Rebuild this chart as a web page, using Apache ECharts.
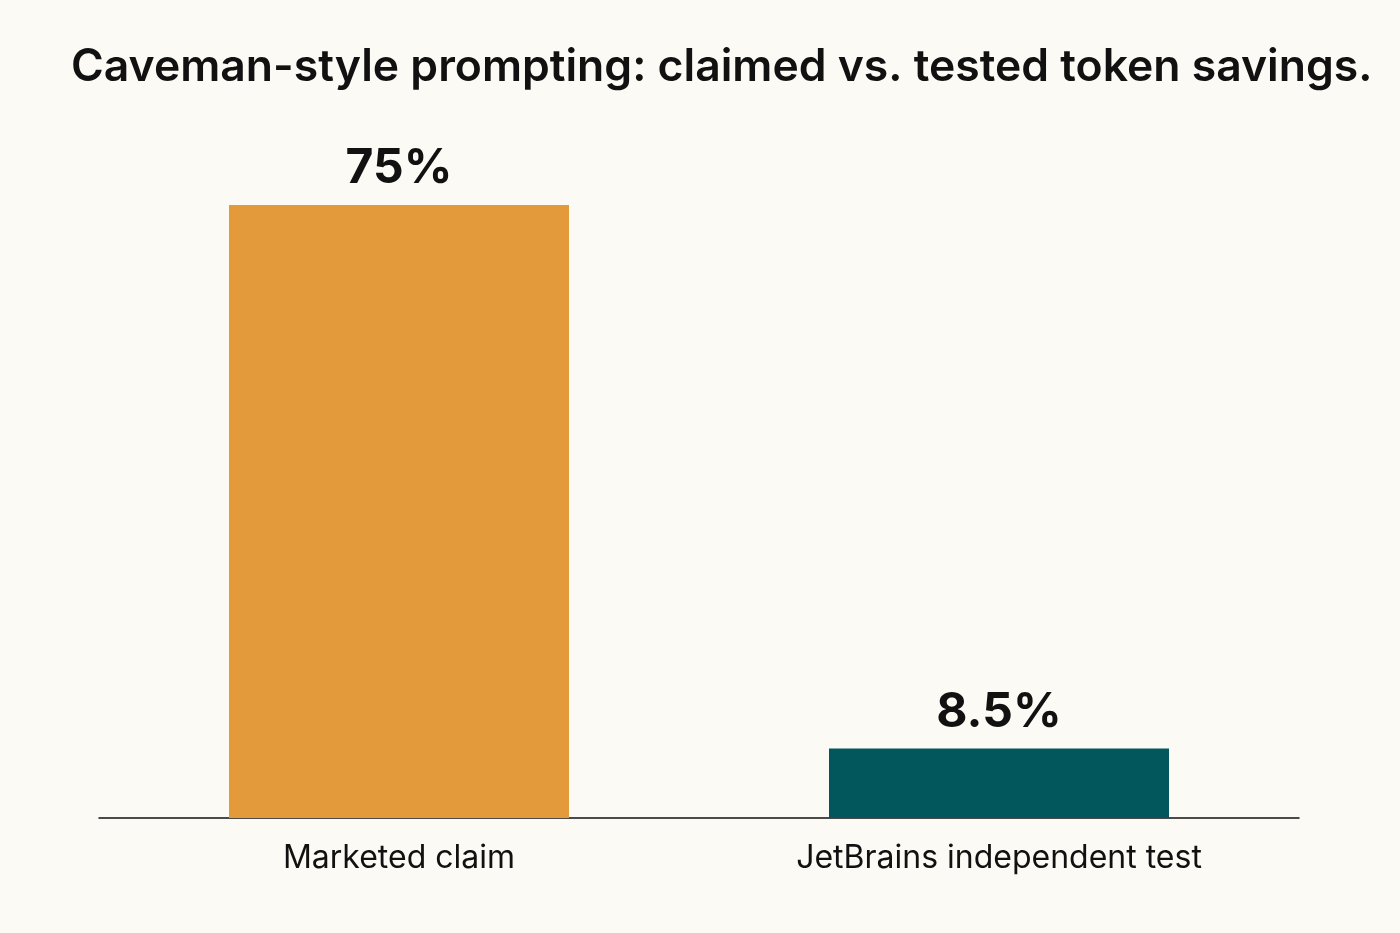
<!DOCTYPE html>
<html>
<head>
<meta charset="utf-8">
<script src="https://cdn.jsdelivr.net/npm/echarts@6/dist/echarts.min.js"></script>
<style>
  html, body { margin: 0; padding: 0; background: #fcfaf5; }
  #main { width: 1400px; height: 933px; }
</style>
</head>
<body>
<div id="main"></div>
<script>
// data
var categories = ['Marketed claim', 'JetBrains independent test'];
var savings = [75, 8.5];
var barColors = ['#e39a3b', '#02575d'];

var myChart = echarts.init(document.getElementById('main'));

var option = {
    backgroundColor: '#fcfaf5',
    animation: false,
    title: {
        text: 'Caveman-style prompting: claimed vs. tested token savings.',
        left: 66,
        top: 40,
        textStyle: {
            fontFamily: 'Inter',
            fontWeight: 600,
            fontSize: 44.5,
            color: '#111'
        }
    },
    grid: {
        left: 99,
        right: 101,
        top: 205,
        bottom: 115
    },
    xAxis: {
        type: 'category',
        data: categories,
        axisLine: { lineStyle: { color: '#111', width: 1.5 } },
        axisTick: { show: false },
        axisLabel: {
            margin: 24,
            fontFamily: 'Inter',
            fontSize: 32,
            color: '#111'
        }
    },
    yAxis: {
        type: 'value',
        min: 0,
        max: 75,
        show: false,
        splitLine: { show: false }
    },
    series: [{
        type: 'bar',
        barWidth: 340,
        data: savings.map(function (v, i) {
            return { value: v, itemStyle: { color: barColors[i] } };
        }),
        label: {
            show: true,
            position: 'top',
            distance: 12,
            formatter: '{c}%',
            fontFamily: 'Inter',
            fontWeight: 700,
            fontSize: 48,
            color: '#111'
        }
    }]
};

myChart.setOption(option);
</script>
</body>
</html>
